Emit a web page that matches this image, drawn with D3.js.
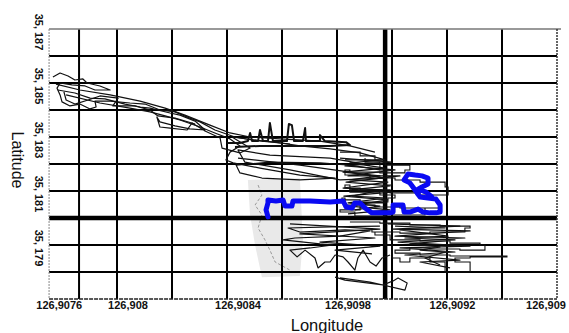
<!DOCTYPE html>
<html><head><meta charset="utf-8">
<script src="https://cdn.jsdelivr.net/npm/d3@7"></script>
<style>html,body{margin:0;padding:0;background:#fff;}svg{display:block;}</style>
</head><body>
<svg id="chart" width="569" height="333"></svg>
<script>
// ---- axis data ----
const xTickLabels = ["126,9076", "126,908", "126,9084", "126,9098", "126,9092", "126,909"];
const xTickValues = [126.90779, 126.90804, 126.90844, 126.90884, 126.90922, 126.90956];
const yTickLabels = ["35, 187", "35, 185", "35, 183", "35, 181", "35, 179"];
const yTickValues = [35.187, 35.185, 35.183, 35.181, 35.179];
const gridLon = [126.907862, 126.9080, 126.9082, 126.9084, 126.9086, 126.9088, 126.9090, 126.9092, 126.9094];
const gridLat = [35.186, 35.185, 35.184, 35.183, 35.182, 35.181, 35.179, 35.178];
const boldLon = [126.908975];
const boldLat = [35.180];
const frameLon = [126.907753, 126.9096];
const frameLat = [35.177, 35.187];

// ---- GPS tracks [lon, lat] ----
const blackTrack1 = [[126.907767,35.18522],[126.907793,35.18537],[126.907822,35.18526],[126.907847,35.18511],[126.907876,35.18515],[126.907891,35.18500],[126.907938,35.18489],[126.907975,35.18474],[126.907920,35.18474],[126.907884,35.18489],[126.907836,35.18493],[126.907793,35.18500],[126.907782,35.18481],[126.907793,35.18456],[126.907800,35.18430],[126.907829,35.18415],[126.907865,35.18422],[126.907902,35.18404],[126.907924,35.18411],[126.907920,35.18433],[126.907975,35.18433],[126.908047,35.18426],[126.908102,35.18422],[126.908156,35.18400],[126.908211,35.18393],[126.908265,35.18370],[126.908302,35.18356],[126.908356,35.18326],[126.908429,35.18300],[126.908491,35.18289],[126.908575,35.18281],[126.908665,35.18267],[126.908775,35.18256],[126.908884,35.18241],[126.908975,35.18215]];
const blackTrack2 = [[126.907785,35.18474],[126.907847,35.18463],[126.907902,35.18444],[126.907956,35.18441],[126.908029,35.18422],[126.908084,35.18411],[126.908120,35.18407],[126.908193,35.18389],[126.908229,35.18381],[126.908284,35.18359],[126.908320,35.18326],[126.908265,35.18330],[126.908211,35.18341],[126.908156,35.18356],[126.908145,35.18374],[126.908156,35.18337],[126.908193,35.18333],[126.908255,35.18326],[126.908273,35.18352],[126.908320,35.18322],[126.908375,35.18296],[126.908382,35.18259],[126.908447,35.18241],[126.908484,35.18259],[126.908418,35.18300],[126.908527,35.18285],[126.908629,35.18274]];
const blackTrack3 = [[126.907815,35.18456],[126.907938,35.18426],[126.908047,35.18407],[126.908120,35.18393],[126.908175,35.18378],[126.908229,35.18363],[126.908302,35.18337],[126.908356,35.18315],[126.908411,35.18293],[126.908447,35.18267],[126.908411,35.18244],[126.908396,35.18215],[126.908422,35.18204],[126.908520,35.18185],[126.908665,35.18159],[126.908793,35.18148],[126.908665,35.18141],[126.908527,35.18148],[126.908447,35.18167],[126.908433,35.18196],[126.908556,35.18207],[126.908738,35.18204],[126.908847,35.18196],[126.908956,35.18178]];
const blackTrack4 = [[126.908400,35.18278],[126.908447,35.18278],[126.908476,35.18285],[126.908484,35.18315],[126.908491,35.18285],[126.908513,35.18285],[126.908520,35.18326],[126.908531,35.18285],[126.908549,35.18285],[126.908556,35.18352],[126.908567,35.18285],[126.908618,35.18285],[126.908625,35.18348],[126.908636,35.18344],[126.908644,35.18285],[126.908676,35.18285],[126.908684,35.18333],[126.908687,35.18285],[126.908738,35.18285],[126.908738,35.18307],[126.908756,35.18285],[126.908833,35.18281],[126.908847,35.18270],[126.908775,35.18267],[126.908665,35.18267],[126.908520,35.18267],[126.908429,35.18263]];
const blackTrack5 = [[126.908811,35.18244],[126.908884,35.18230],[126.908938,35.18215],[126.908975,35.18196],[126.909065,35.18178],[126.909047,35.18167],[126.908956,35.18170],[126.908847,35.18178],[126.908829,35.18159],[126.908920,35.18148],[126.909011,35.18141],[126.909102,35.18133],[126.909193,35.18115],[126.909204,35.18085],[126.909102,35.18093],[126.908993,35.18104],[126.908884,35.18111],[126.908829,35.18122],[126.908847,35.18096],[126.908956,35.18085],[126.909011,35.18074],[126.908985,35.18059],[126.908884,35.18067],[126.908818,35.18074],[126.908829,35.18048],[126.908938,35.18041],[126.909029,35.18037],[126.909175,35.18037],[126.909120,35.18011],[126.908975,35.18007],[126.908865,35.18022],[126.908811,35.18030],[126.908884,35.18056],[126.908975,35.18122],[126.909000,35.18178],[126.908956,35.18207],[126.908902,35.18222]];
const blackTrack6 = [[126.908829,35.18215],[126.908967,35.18215],[126.908847,35.18204],[126.908975,35.18185],[126.908822,35.18170],[126.908956,35.18156],[126.908847,35.18141],[126.908985,35.18133],[126.908822,35.18111],[126.908964,35.18104],[126.908855,35.18081],[126.908978,35.18074],[126.908840,35.18056],[126.908956,35.18044],[126.908865,35.18030]];
const blackTrack7 = [[126.908847,35.17985],[126.908956,35.17981],[126.909065,35.17974],[126.909175,35.17970],[126.909284,35.17963],[126.909265,35.17948],[126.909138,35.17944],[126.909029,35.17948],[126.908938,35.17937],[126.908993,35.17919],[126.909102,35.17915],[126.909211,35.17907],[126.909320,35.17900],[126.909338,35.17881],[126.909247,35.17885],[126.909138,35.17889],[126.909065,35.17881],[126.909011,35.17870],[126.909102,35.17863],[126.909211,35.17859],[126.909320,35.17859],[126.909418,35.17856],[126.909284,35.17852],[126.909229,35.17837],[126.909284,35.17800],[126.909193,35.17837],[126.909138,35.17852],[126.909065,35.17837],[126.909029,35.17852],[126.909000,35.17900],[126.908975,35.17948],[126.908927,35.17963]];
const blackTrack8 = [[126.909011,35.17970],[126.909193,35.17963],[126.909029,35.17956],[126.909204,35.17933],[126.909047,35.17926],[126.909229,35.17919],[126.909065,35.17904],[126.909175,35.17893],[126.909102,35.17881],[126.909193,35.17874],[126.909120,35.17852],[126.909175,35.17826]];
const blackTrack9 = [[126.908956,35.17970],[126.908775,35.17967],[126.908622,35.17963],[126.908665,35.17948],[126.908829,35.17956],[126.908920,35.17952],[126.908811,35.17933],[126.908647,35.17926],[126.908604,35.17919],[126.908738,35.17904],[126.908785,35.17900],[126.908702,35.17889],[126.908629,35.17881],[126.908655,35.17856],[126.908684,35.17881],[126.908720,35.17852],[126.908731,35.17815],[126.908756,35.17837],[126.908775,35.17837],[126.908793,35.17863],[126.908822,35.17856],[126.908840,35.17837],[126.908865,35.17807],[126.908876,35.17852],[126.908895,35.17881],[126.908920,35.17837],[126.908942,35.17822],[126.908964,35.17852],[126.908993,35.17863]];
const blackTrack10 = [[126.908811,35.17778],[126.908920,35.17763],[126.909047,35.17733],[126.909055,35.17759],[126.909022,35.17778],[126.909004,35.17767],[126.908967,35.17752],[126.908829,35.17770],[126.908793,35.17781]];
const blackTrack11 = [[126.907778,35.18496],[126.907865,35.18474],[126.907975,35.18456],[126.908084,35.18433],[126.908175,35.18407],[126.908247,35.18381],[126.908338,35.18344],[126.908411,35.18315],[126.908484,35.18300],[126.908593,35.18293],[126.908738,35.18285],[126.908847,35.18267],[126.908938,35.18244]];
const blackTrack12 = [[126.907807,35.18467],[126.907815,35.18437],[126.907847,35.18422],[126.907895,35.18437],[126.907938,35.18452],[126.908004,35.18444],[126.907985,35.18415],[126.908065,35.18415],[126.908120,35.18400],[126.908149,35.18378],[126.908211,35.18370],[126.908284,35.18348]];
const blackTrack13 = [[126.908440,35.18222],[126.908665,35.18196],[126.908847,35.18170],[126.908975,35.18148],[126.908811,35.18141],[126.908629,35.18178],[126.908465,35.18207],[126.908440,35.18252],[126.908556,35.18233],[126.908775,35.18222],[126.908920,35.18196]];
const blackTrack14 = [[126.908811,35.18222],[126.909000,35.18207],[126.908829,35.18193],[126.909011,35.18178],[126.908840,35.18156],[126.909029,35.18156],[126.908833,35.18133],[126.908993,35.18119],[126.908847,35.18104],[126.909000,35.18096],[126.908825,35.18081],[126.908985,35.18067],[126.908847,35.18044],[126.908993,35.18030],[126.908840,35.18015]];
const blackTrack15 = [[126.908985,35.17978],[126.909247,35.17970],[126.909000,35.17959],[126.909284,35.17952],[126.909011,35.17933],[126.909265,35.17926],[126.909022,35.17911],[126.909284,35.17896],[126.909029,35.17889],[126.909229,35.17874],[126.909047,35.17863],[126.909247,35.17844],[126.909102,35.17837],[126.909211,35.17815]];
const blackTrack16 = [[126.908629,35.17978],[126.908956,35.17959],[126.908665,35.17941],[126.908938,35.17926],[126.908738,35.17911],[126.908956,35.17896],[126.908793,35.17881],[126.908927,35.17867]];
const grayTrack = [[126.908513,35.18122],[126.908527,35.18085],[126.908502,35.18048],[126.908527,35.18011],[126.908513,35.17963],[126.908538,35.17919],[126.908556,35.17881],[126.908575,35.17837],[126.908629,35.17807]];
const grayArea = [[126.908476,35.18141],[126.908665,35.18148],[126.908676,35.17919],[126.908665,35.17785],[126.908527,35.17781],[126.908502,35.17900],[126.908484,35.18011]];
const blueTrack = [[126.908549,35.18004],[126.908542,35.18030],[126.908549,35.18056],[126.908549,35.18067],[126.908578,35.18063],[126.908604,35.18067],[126.908611,35.18044],[126.908636,35.18044],[126.908640,35.18063],[126.908702,35.18063],[126.908775,35.18059],[126.908822,35.18063],[126.908833,35.18041],[126.908855,35.18037],[126.908865,35.18056],[126.908884,35.18056],[126.908902,35.18037],[126.908927,35.18019],[126.908993,35.18019],[126.909004,35.18022],[126.909004,35.18048],[126.909040,35.18048],[126.909044,35.18022],[126.909065,35.18022],[126.909095,35.18033],[126.909113,35.18022],[126.909138,35.18019],[126.909160,35.18019],[126.909175,35.18022],[126.909175,35.18048],[126.909160,35.18070],[126.909131,35.18074],[126.909102,35.18078],[126.909091,35.18093],[126.909076,35.18115],[126.909065,35.18130],[126.909044,35.18141],[126.909058,35.18163],[126.909084,35.18159],[126.909109,35.18156],[126.909131,35.18148],[126.909131,35.18126],[126.909109,35.18115],[126.909095,35.18107],[126.909124,35.18096],[126.909145,35.18078]];

// ---- drawing ----
const svg = d3.select("#chart");
const x = d3.scaleLinear().domain([126.9078, 126.9096]).range([62, 557]);
const y = d3.scaleLinear().domain([35.177, 35.187]).range([299, 29]);
const line = d3.line().x(d => x(d[0])).y(d => y(d[1]));
const stepLine = d3.line().x(d => x(d[0])).y(d => y(d[1])).curve(d3.curveStepAfter);
const [x0, x1] = frameLon.map(x);
const [yB, yT] = frameLat.map(y);

svg.append("path").datum(grayArea).attr("d", d => line(d) + "Z").attr("fill", "#e9e9e9");
svg.append("path").datum(grayTrack).attr("d", line).attr("fill", "none").attr("stroke", "#999").attr("stroke-width", 1).attr("stroke-dasharray", "3,2");

// grid
const g = svg.append("g");
g.selectAll(".vl").data(gridLon).join("line").attr("class","vl").attr("x1", d => x(d)).attr("x2", d => x(d)).attr("y1", yT).attr("y2", yB).attr("stroke", "#000").attr("stroke-width", 2);
g.selectAll(".hl").data(gridLat).join("line").attr("class","hl").attr("x1", x0).attr("x2", x1).attr("y1", d => y(d)).attr("y2", d => y(d)).attr("stroke", "#000").attr("stroke-width", 2);
g.selectAll(".bv").data(boldLon).join("line").attr("class","bv").attr("x1", d => x(d)).attr("x2", d => x(d)).attr("y1", yT).attr("y2", yB).attr("stroke", "#000").attr("stroke-width", 4.5);
g.selectAll(".bh").data(boldLat).join("line").attr("class","bh").attr("x1", x0).attr("x2", x1).attr("y1", d => y(d)).attr("y2", d => y(d)).attr("stroke", "#000").attr("stroke-width", 4.5);
// frame
g.append("line").attr("x1", x0).attr("x2", x1 + 4).attr("y1", yT).attr("y2", yT).attr("stroke", "#777").attr("stroke-width", 1.5);
g.append("line").attr("x1", x0).attr("x2", x1).attr("y1", yB).attr("y2", yB).attr("stroke", "#222").attr("stroke-width", 1.5).attr("stroke-dasharray", "4,1");
g.append("line").attr("x1", x0).attr("x2", x0).attr("y1", yT).attr("y2", yB).attr("stroke", "#888").attr("stroke-width", 1).attr("stroke-dasharray", "2,1");
g.append("line").attr("x1", x1).attr("x2", x1).attr("y1", yT).attr("y2", yB).attr("stroke", "#333").attr("stroke-width", 1.5).attr("stroke-dasharray", "2,1");

// tracks: most as straight segments, two dense clusters as stepped GPS jitter
const straightTracks = [blackTrack1, blackTrack2, blackTrack3, blackTrack4, blackTrack6, blackTrack8, blackTrack9, blackTrack10, blackTrack11, blackTrack12, blackTrack13, blackTrack14, blackTrack15, blackTrack16];
const steppedTracks = [blackTrack5, blackTrack7];
svg.append("g").selectAll("path").data(straightTracks).join("path")
  .attr("d", line).attr("fill", "none").attr("stroke", "#111")
  .attr("stroke-width", (d, i) => i === 3 ? 2 : 1.2).attr("stroke-linejoin", "round");
svg.append("g").selectAll("path").data(steppedTracks).join("path")
  .attr("d", stepLine).attr("fill", "none").attr("stroke", "#111")
  .attr("stroke-width", 1.1);
svg.append("path").datum(blueTrack).attr("d", line).attr("fill", "none")
  .attr("stroke", "#0a0af2").attr("stroke-width", 5).attr("stroke-linejoin", "round").attr("stroke-linecap", "round");

// tick labels
const font = "'Liberation Sans', Arial, sans-serif";
svg.append("g").selectAll("text").data(xTickValues).join("text")
  .attr("x", d => x(d)).attr("y", 309).attr("text-anchor", "middle")
  .attr("font-family", font).attr("font-size", 11).attr("font-weight", "bold").attr("fill", "#111")
  .text((d, i) => xTickLabels[i]);
svg.append("g").selectAll("text").data(yTickValues).join("text")
  .attr("transform", d => `translate(35,${y(d) + 3}) rotate(90)`).attr("text-anchor", "middle")
  .attr("font-family", font).attr("font-size", 11).attr("font-weight", "bold").attr("fill", "#111")
  .text((d, i) => yTickLabels[i]);

// axis titles
svg.append("text").attr("x", 327).attr("y", 331).attr("text-anchor", "middle")
  .attr("font-family", font).attr("font-size", 16.5).attr("fill", "#111").text("Longitude");
svg.append("text").attr("transform", "translate(12,160) rotate(90)").attr("text-anchor", "middle")
  .attr("font-family", font).attr("font-size", 16).attr("fill", "#111").text("Latitude");
</script>
</body></html>
